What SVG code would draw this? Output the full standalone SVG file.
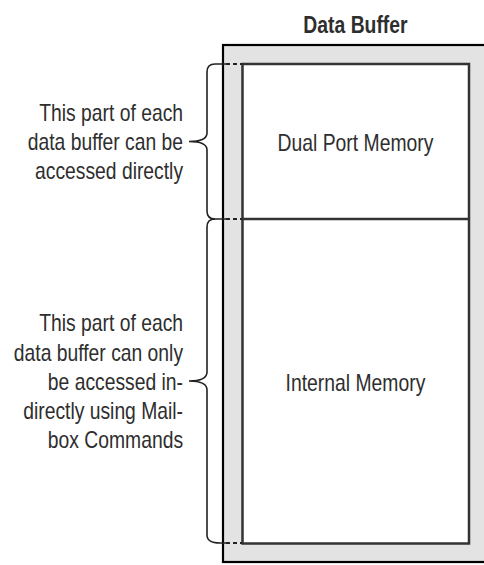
<svg xmlns="http://www.w3.org/2000/svg" width="484" height="565" viewBox="0 0 484 565">
  <style>
    .t { font-family: "Liberation Sans", Arial, sans-serif; font-size: 23px; fill: #2e2e2e; }
    .big { font-size: 23.6px; }
    .title { font-weight: bold; }
    .mid { text-anchor: middle; }
    .end { text-anchor: end; }
    .frame { fill: #e3e3e3; stroke: #000; stroke-width: 2.2; }
    .inner { fill: #fff; stroke: #333; stroke-width: 2.5; }
    .brace { fill: none; stroke: #222; stroke-width: 1.6; }
    .dash { fill: none; stroke: #222; stroke-width: 2; stroke-dasharray: 4 3; }
  </style>

  <!-- labels use a horizontally narrowed sans: x coordinates are in the scaled space -->
  <g id="data-buffer">
    <rect class="frame" x="223" y="45" width="265" height="517"/>
    <rect class="inner" x="242.5" y="64" width="226.5" height="479.5"/>
    <line x1="242.5" y1="219" x2="469" y2="219" stroke="#333" stroke-width="2.5"/>
    <text class="t big title mid" transform="scale(0.82 1)" x="433.5" y="33">Data Buffer</text>
  </g>

  <g id="dual-port-memory">
    <text class="t big mid" transform="scale(0.82 1)" x="433.5" y="151">Dual Port Memory</text>
  </g>

  <g id="internal-memory">
    <text class="t big mid" transform="scale(0.82 1)" x="433.5" y="391">Internal Memory</text>
  </g>

  <g id="direct-note" transform="scale(0.84 1)">
    <text class="t end" x="217.9" y="121.5">This part of each</text>
    <text class="t end" x="217.9" y="150">data buffer can be</text>
    <text class="t end" x="217.9" y="179">accessed directly</text>
  </g>

  <g id="indirect-note" transform="scale(0.84 1)">
    <text class="t end" x="217.9" y="331.5">This part of each</text>
    <text class="t end" x="217.9" y="361">data buffer can only</text>
    <text class="t end" x="217.9" y="390">be accessed in-</text>
    <text class="t end" x="217.9" y="419">directly using Mail-</text>
    <text class="t end" x="217.9" y="448">box Commands</text>
  </g>

  <g id="connectors">
    <!-- upper brace: top edge to divider -->
    <path class="brace" d="M226 64 L215 64 Q207 64 207 72 L207 133 C207 139 201 141.5 189 141.5 C201 141.5 207 144 207 150 L207 211 Q207 219 215 219 L226 219"/>
    <!-- lower brace: divider to bottom edge -->
    <path class="brace" d="M215 219 Q207 219 207 227 L207 372 C207 378 201 381 189 381 C201 381 207 384 207 390 L207 535 Q207 543 220 543 L226 543"/>
    <!-- dashed continuations across the frame border -->
    <line class="dash" x1="226" y1="64" x2="242" y2="64"/>
    <line class="dash" x1="226" y1="219" x2="242" y2="219"/>
    <line class="dash" x1="226" y1="543" x2="242" y2="543"/>
  </g>
</svg>
